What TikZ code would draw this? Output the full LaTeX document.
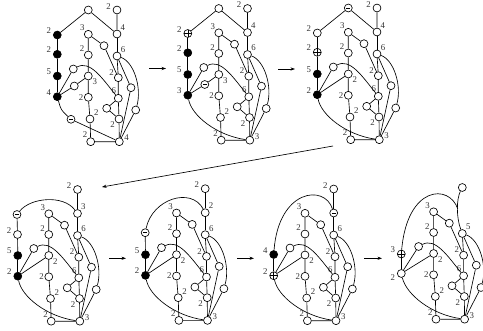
\documentclass[tikz,border=0pt]{standalone}
\usepackage{fontspec}
\setmainfont{Liberation Serif}
\usetikzlibrary{arrows.meta}
\newcommand{\mypanelcommon}[4]{%
 \node[wn,label={135:3}] (#1M1) at (88.3,34.3) {};
 \node[wn,label={143:2}] (#1M2) at (88.3,55) {};
 \node[wn,label={-30:#2}] (#1M3) at (88.3,76) {};
 \node[wn,label={178:2}] (#1M4) at (88.3,97.3) {};
 \node[wn,label={35:2}] (#1M5) at (90,119) {};
 \node[wn,label={130:2}] (#1M6) at (90.7,141.7) {};
 \node[wn] (#1D1) at (104,45.7) {};
 \node[wn,label={42:#4}] (#1R6) at (117,56) {};
 \node[wn,label={155:2}] (#1R2) at (118.3,77.7) {};
 \node[wn,label={115:6}] (#1R6b) at (118.3,98.3) {};
 \node[wn,label={213:2}] (#1R2b) at (119,119) {};
 \node[wn,label={8:#3}] (#1B) at (119.3,141.7) {};
 \node[wn] (#1S) at (106.7,108.3) {};
 \node[wn] (#1Q1) at (131,87.7) {};
 \node[wn] (#1Q2) at (135.7,110) {};
 \node[wn] (#1P1) at (73.3,69) {};
 \draw[ed] (#1M1)--(#1M2)--(#1M3)--(#1M4)--(#1M5)--(#1M6)--(#1B);
 \draw[ed] (#1M1)--(#1D1)--(#1R2);
 \draw[ed] (#1R6)--(#1R2)--(#1R6b)--(#1R2b)--(#1B);
 \draw[ed] (#1S)--(#1R6b); \draw[ed] (#1S)--(#1R2b);
 \draw[ed] (#1R6)--(#1Q1)--(#1B);
 \draw[ed] (#1R6) .. controls (134,62) and (142,88) .. (#1Q2);
 \draw[ed] (#1Q2)--(#1B);
 \draw[ed] (#1P1) .. controls (90,60) and (102,78) .. (#1R6b);
}
\begin{document}
\begin{tikzpicture}[x=1pt,y=-1pt,
  nd/.style={circle,draw=black,line width=0.65pt,minimum size=7.9pt,inner sep=0pt,fill=white},
  wn/.style={nd},
  bn/.style={nd,fill=black},
  pn/.style={nd,path picture={\draw[line width=0.5pt] (path picture bounding box.west) -- (path picture bounding box.east) (path picture bounding box.north) -- (path picture bounding box.south);}},
  mn/.style={nd,path picture={\draw[line width=0.65pt] ([xshift=-1.9pt]path picture bounding box.center) -- ([xshift=1.9pt]path picture bounding box.center);}},
  every label/.style={font=\fontsize{8.8}{8.8}\selectfont,text=black!80,inner sep=0.2pt},
  label distance=0.4pt,
  ll/.style={label distance=1.6pt},
  ed/.style={line width=0.65pt},
  th/.style={line width=1.3pt},
  arr/.style={line width=0.65pt,-{Stealth[length=4.5pt,width=3.2pt]}}
]
\useasboundingbox (0,0) rectangle (483,331);
\clip (0,0) rectangle (483,331);

% Panel 1
\begin{scope}[shift={(0,0)}]
 \mypanelcommon{a}{3}{4}{6}
 \node[wn,label={[ll]175:2}] (aT) at (117,10) {};
 \node[wn] (aA) at (88.3,10) {};
 \node[wn,label={45:4}] (aR4) at (117,34) {};
 \node[bn,label={[ll]170:2}] (aL1) at (57.3,35) {};
 \node[bn,label={[ll]170:2}] (aL2) at (57.3,54.3) {};
 \node[bn,label={[ll]170:5}] (aL3) at (57.3,76) {};
 \node[bn,label={[ll]170:4}] (aL4) at (57.3,96.7) {};
 \node[wn] (aP2) at (74.3,86) {};
 \node[mn] (aP3) at (71,119.3) {};
 \draw[ed] (aL1)--(aA)--(aR4)--(aT); \draw[ed] (aR4)--(aR6);
 \draw[th] (aL1)--(aL2)--(aL3)--(aL4);
 \draw[ed] (aL4)--(aP1); \draw[ed] (aL4)--(aP2)--(aM3);
 \draw[ed] (aL4) .. controls (61,110) .. (aP3); \draw[ed] (aP3)--(aB);
\end{scope}

% Panel 2
\begin{scope}[shift={(130.5,-1.5)}]
 \mypanelcommon{b}{3}{3}{6}
 \node[wn,label={[ll]175:2}] (bT) at (117,10) {};
 \node[wn] (bA) at (88.3,10) {};
 \node[wn,label={45:4}] (bR4) at (117,34) {};
 \node[pn,label={[ll]170:2}] (bL1) at (57.3,35) {};
 \node[bn,label={[ll]170:2}] (bL2) at (57.3,54.3) {};
 \node[bn,label={[ll]170:5}] (bL3) at (57.3,76) {};
 \node[bn,label={[ll]170:3}] (bL4) at (57.3,96.7) {};
 \node[mn] (bP2) at (74.3,86) {};
 \draw[ed] (bL1)--(bA)--(bR4)--(bT); \draw[ed] (bR4)--(bR6);
 \draw[th] (bL1)--(bL2)--(bL3)--(bL4);
 \draw[ed] (bL4)--(bP1); \draw[ed] (bL4)--(bP2)--(bM3);
 \draw[ed] (bL4) .. controls (61,117) and (86,137) .. (bB);
\end{scope}

% Panel 3
\begin{scope}[shift={(260,-2)}]
 \mypanelcommon{c}{2}{3}{6}
 \node[wn,label={[ll]175:2}] (cT) at (117,10) {};
 \node[mn] (cA) at (88.3,10) {};
 \node[wn,label={45:4}] (cR4) at (117,34) {};
 \node[wn,label={[ll]170:2}] (cL1) at (57.3,35) {};
 \node[pn,label={[ll]170:2}] (cL2) at (57.3,54.3) {};
 \node[bn,label={[ll]170:5}] (cL3) at (57.3,76) {};
 \node[bn,label={[ll]170:2}] (cL4) at (57.3,96.7) {};
 \draw[ed] (cL1)--(cA)--(cR4)--(cT); \draw[ed] (cR4)--(cR6);
 \draw[ed] (cL1)--(cL2);
 \draw[th] (cL2)--(cL3)--(cL4);
 \draw[ed] (cL4)--(cP1); \draw[ed] (cL4)--(cM3);
 \draw[ed] (cL4) .. controls (61,117) and (86,137) .. (cB);
\end{scope}

% Panel 4
\begin{scope}[shift={(-39.5,179.5)}]
 \mypanelcommon{d}{2}{3}{6}
 \node[wn,label={[ll]175:2}] (dT) at (117,10) {};
 \node[wn,label={45:3}] (dR4) at (117,34) {};
 \node[mn] (dL1) at (56.5,35) {};
 \node[wn,label={[ll]170:2}] (dL2) at (57,55) {};
 \node[bn,label={[ll]170:5}] (dL3) at (57.3,76) {};
 \node[bn,label={[ll]170:2}] (dL4) at (57.3,96.7) {};
 \draw[ed] (dL1) .. controls (70,18) and (103,15) .. (dR4);
 \draw[ed] (dR4)--(dT); \draw[ed] (dR4)--(dR6);
 \draw[ed] (dL1)--(dL2)--(dL3);
 \draw[th] (dL3)--(dL4);
 \draw[ed] (dL4)--(dP1); \draw[ed] (dL4)--(dM3);
 \draw[ed] (dL4) .. controls (61,117) and (86,137) .. (dB);
\end{scope}

% Panel 5
\begin{scope}[shift={(88.2,178.7)}]
 \mypanelcommon{e}{2}{3}{6}
 \node[wn,label={[ll]175:2}] (eT) at (117,10) {};
 \node[wn,label={45:2}] (eR4) at (117,34) {};
 \node[mn] (eL2) at (57,54) {};
 \node[bn,label={[ll]170:5}] (eL3) at (57.3,76) {};
 \node[bn,label={[ll]170:2}] (eL4) at (57.3,96.7) {};
 \draw[ed] (eL2) .. controls (64,20) and (103,8) .. (eR4);
 \draw[ed] (eR4)--(eT); \draw[ed] (eR4)--(eR6);
 \draw[ed] (eL2)--(eL3);
 \draw[th] (eL3)--(eL4);
 \draw[ed] (eL4)--(eP1); \draw[ed] (eL4)--(eM3);
 \draw[ed] (eL4) .. controls (61,117) and (86,137) .. (eB);
\end{scope}

% Panel 6
\begin{scope}[shift={(216.7,179)}]
 \mypanelcommon{f}{2}{3}{6}
 \node[wn,label={[ll]175:2}] (fT) at (117,10) {};
 \node[mn] (fR4) at (117,34) {};
 \node[bn,label={[ll]170:4}] (fL3) at (57,75.5) {};
 \node[pn,label={[ll]170:2}] (fL4) at (57,96.7) {};
 \draw[ed] (fL3) .. controls (62,10) and (108,5) .. (fR4);
 \draw[ed] (fR4)--(fT); \draw[ed] (fR4)--(fR6);
 \draw[ed] (fL3)--(fL4);
 \draw[ed] (fL4)--(fP1); \draw[ed] (fL4)--(fM3);
 \draw[ed] (fL4) .. controls (61,117) and (86,137) .. (fB);
\end{scope}

% Panel 7
\begin{scope}[shift={(345.3,177.5)}]
 \mypanelcommon{g}{2}{3}{5}
 \node[wn] (gT) at (117,10) {};
 \node[pn,label={[ll]170:3}] (gL3) at (56,76.5) {};
 \node[wn,label={[ll]185:2}] (gL4) at (56,96) {};
 \coordinate (gJ) at (112.5,31.5);
 \draw[ed] (gT) .. controls (111,22) and (111,40) .. (gR6);
 \draw[ed] (gL3) .. controls (62,8) and (104,6) .. (gJ);
 \draw[ed] (gL3)--(gL4);
 \draw[ed] (gL4)--(gP1); \draw[ed] (gL4)--(gM3);
 \draw[ed] (gL4) .. controls (61,117) and (86,137) .. (gB);
\end{scope}

% Arrows
\coordinate (ar1s) at (149,68.5); \coordinate (ar1e) at (166,68.5);
\coordinate (ar2s) at (278,69); \coordinate (ar2e) at (295,69);
\coordinate (ar3s) at (333,146); \coordinate (ar3e) at (102,187);
\coordinate (ar4s) at (109,258.3); \coordinate (ar4e) at (126,258.3);
\coordinate (ar5s) at (237,258.3); \coordinate (ar5e) at (254,258.3);
\coordinate (ar6s) at (364,258.3); \coordinate (ar6e) at (382,258.3);
\draw[arr] (ar1s)--(ar1e);
\draw[arr] (ar2s)--(ar2e);
\draw[arr] (ar3s)--(ar3e);
\draw[arr] (ar4s)--(ar4e);
\draw[arr] (ar5s)--(ar5e);
\draw[arr] (ar6s)--(ar6e);
\end{tikzpicture}
\end{document}
